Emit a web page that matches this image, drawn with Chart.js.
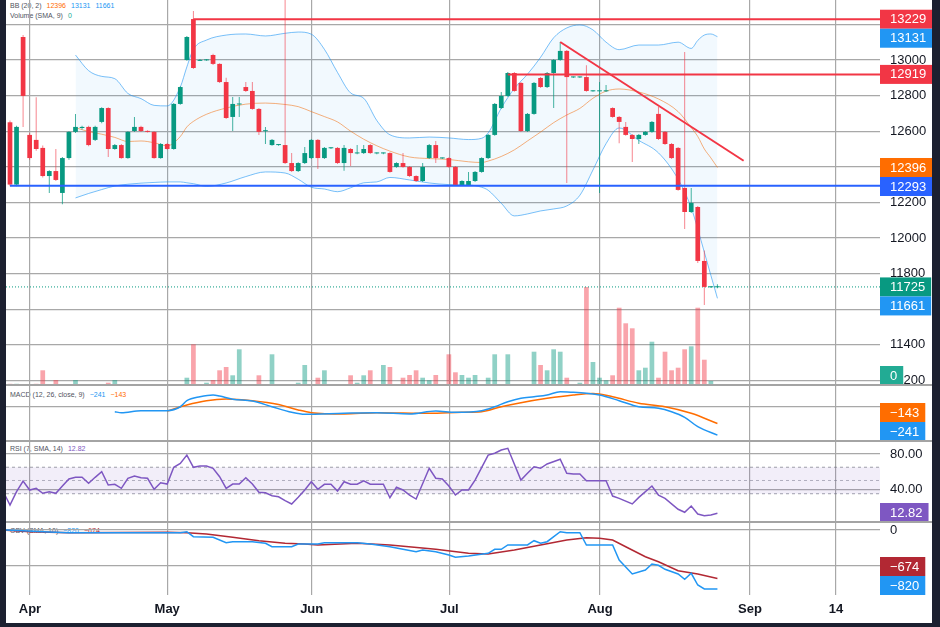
<!DOCTYPE html>
<html>
<head>
<meta charset="utf-8">
<title>BB / Volume / MACD / RSI / OBV</title>
<script src="https://cdn.jsdelivr.net/npm/chart.js@4.4.1/dist/chart.umd.min.js"></script>
<style>
  html, body { margin: 0; padding: 0; width: 940px; height: 627px; overflow: hidden; background: #1c2030; }
  #frame { position: absolute; left: 6px; top: 0; width: 926px; height: 623px; background: #fff; overflow: hidden; }
  .pane { position: absolute; left: 0; width: 926px; }
  .pane canvas { position: absolute; left: 0; top: 0; z-index: 1; }
  .legend { position: absolute; left: 4px; z-index: 0; font: 7px "Liberation Sans", Arial, sans-serif; line-height: 8px; color: #50535e; white-space: nowrap; }
  .legend span { margin-left: 5px; }
  .sep { position: absolute; left: 0; width: 926px; height: 1.5px; background: #a4a4a4; z-index: 2; }
</style>
</head>
<body>
<div id="frame">
  <div class="pane" style="top:0;height:385px"><canvas id="main" width="926" height="385"></canvas></div>
  <div class="pane" style="top:385px;height:56px"><canvas id="macd" width="926" height="56"></canvas></div>
  <div class="pane" style="top:441px;height:81px"><canvas id="rsi" width="926" height="81"></canvas></div>
  <div class="pane" style="top:522px;height:100px"><canvas id="obv" width="926" height="100"></canvas></div>
  <div class="legend" id="lg-bb" style="top:1.5px"></div>
  <div class="legend" id="lg-vol" style="top:11.5px"></div>
  <div class="legend" id="lg-macd" style="top:390.5px"></div>
  <div class="legend" id="lg-rsi" style="top:445px"></div>
  <div class="legend" id="lg-obv" style="top:526.5px"></div>
  <div class="sep" style="top:384.3px"></div>
  <div class="sep" style="top:440.3px"></div>
  <div class="sep" style="top:521.3px"></div>
</div>
<script>
// bar index 0 = first visible daily bar
const monthIdx = [3.05, 24.0, 46.06, 67.07, 90.08, 112.98, 126.1];
const monthLabels = ['Apr', 'May', 'Jun', 'Jul', 'Aug', 'Sep', '14'];
const xMin = -0.61, xMax = 132.82;

const opens = [12650,12300,13129,12579,12551,12506,12348,12376,12253,12449,12596,12618,12624,12551,12652,12730,12500,12522,12449,12601,
  12624,12601,12596,12449,12528,12500,12753,13000,13230,12995,12998,13028,12978,12876,12680,12750,12848,12826,12725,12600,
  12522,12522,12522,12421,12376,12421,12449,12551,12449,12504,12506,12421,12500,12475,12477,12522,12475,12475,12477,12399,
  12421,12399,12348,12320,12449,12522,12447,12449,12399,12298,12298,12320,12371,12449,12579,12730,12798,12927,12871,12601,
  12697,12899,12848,12927,13000,13051,12902,12902,12904,12824,12824,12824,12730,12680,12624,12579,12556,12579,12596,12697,
  12596,12528,12506,12281,12146,12174,11871,11723,11723];
const highs = [12660,12630,13140,12590,12790,12520,12380,12500,12455,12600,12697,12630,12630,12630,12735,12735,12528,12528,12600,12680,
  12630,12605,12600,12533,12533,12758,12853,13135,13275,13005,13005,13035,12982,12900,12792,12792,12876,12876,12730,12624,
  12556,12528,13400,12477,12426,12511,12556,12556,12511,12510,12511,12522,12505,12522,12522,12528,12480,12480,12482,12426,
  12477,12404,12353,12421,12528,12545,12452,12454,12404,12325,12371,12376,12454,12584,12758,12820,12932,12932,12876,12702,
  12876,12904,12932,13005,13101,13056,12907,12907,12970,12830,12876,12860,12735,12685,12652,12584,12584,12601,12657,12736,
  12601,12533,12511,13045,12281,12179,11930,11728,11740];
const lows = [12290,12290,12624,12440,12490,12340,12253,12320,12190,12440,12590,12610,12515,12545,12645,12455,12495,12445,12445,12596,
  12596,12592,12445,12445,12495,12495,12748,12995,12950,12995,12995,12972,12870,12668,12601,12680,12820,12720,12579,12528,
  12518,12518,12415,12371,12371,12416,12444,12387,12444,12500,12416,12378,12404,12470,12472,12472,12470,12470,12366,12394,
  12394,12343,12315,12315,12444,12421,12444,12394,12293,12293,12293,12315,12366,12444,12574,12725,12793,12821,12596,12596,
  12692,12843,12843,12730,12995,12309,12899,12899,12821,12821,12253,12820,12675,12532,12574,12427,12528,12574,12591,12551,
  12523,12444,12265,12050,12141,11860,11624,11720,11718];
const closes = [12300,12624,12798,12449,12500,12348,12376,12326,12449,12596,12624,12624,12522,12624,12730,12500,12522,12449,12596,12624,
  12601,12596,12449,12528,12500,12753,12848,13129,12955,13000,13000,12978,12876,12674,12753,12753,12826,12725,12596,12605,
  12551,12524,12421,12376,12421,12477,12551,12449,12506,12506,12421,12506,12477,12477,12500,12477,12477,12477,12371,12421,
  12399,12348,12320,12399,12522,12449,12449,12399,12298,12320,12320,12371,12449,12579,12753,12798,12927,12826,12601,12697,
  12871,12848,12927,13000,13051,12904,12904,12904,12826,12826,12826,12828,12680,12652,12579,12556,12579,12596,12652,12556,
  12528,12449,12270,12146,12197,11871,11725,11725,11725];
const volumes = [12,12,10,10,12,147,10,50,10,10,50,10,10,10,10,23,50,10,10,10,
  10,10,10,10,10,10,10,73,407,10,23,50,147,180,97,357,10,10,97,10,
  307,10,10,10,23,200,10,73,147,10,10,10,97,23,97,147,10,200,180,10,
  73,100,147,73,47,100,10,307,127,100,73,100,10,73,307,10,307,10,10,10,
  333,200,147,357,333,73,10,23,980,230,73,47,97,773,617,567,147,173,433,73,
  333,147,173,357,387,773,253,40,10];
const volSmaLast = 0;

const bbIdx = [10,12,14,16,18,20,22,24,26,27,28,30,33,36,39,42,44,46,48,50,52,54,56,58,61,64,67,70,72,73,
  75,77,79,81,83,85,87,89,91,93,96,99,102,104,105,106,107,108];
const bbUpper = [13028,12940,12908,12895,12812,12783,12745,12742,12848,12961,13060,13112,13140,13146,13135,13150,13157,13145,13060,12930,
  12815,12785,12660,12580,12562,12567,12562,12553,12560,12590,12730,12840,12920,13015,13125,13180,13197,13169,13100,13058,
  13084,13084,13100,13065,13110,13140,13146,13131];
const bbBasis = [12620,12598,12583,12565,12542,12545,12535,12518,12570,12624,12655,12695,12730,12752,12758,12750,12738,12710,12682,12652,
  12600,12555,12518,12488,12455,12446,12441,12428,12424,12432,12458,12495,12545,12595,12648,12691,12728,12785,12825,12837,
  12820,12781,12710,12620,12570,12500,12450,12396];
const bbLower = [12225,12250,12272,12292,12302,12308,12312,12315,12315,12310,12305,12290,12309,12345,12371,12365,12330,12285,12275,12260,
  12282,12310,12315,12340,12326,12309,12300,12298,12285,12268,12195,12124,12135,12152,12163,12180,12240,12382,12530,12618,
  12548,12478,12330,12170,12050,11920,11790,11661];

const levels = [13229, 12919, 12293];
const levelFrom = [28, 76, 0];
const levelColors = ['#f23645', '#f23645', '#2962ff'];
const trendLine = [[84, 13101], [112, 12434]];
const priceTicks = [11200, 11400, 11600, 11800, 12000, 12200, 12400, 12600, 12800, 13000, 13200];

const macdLine = [[16,-44],[17,-52],[20,-35],[24,-35],[26,-2],[27,49],[29,82],[31,97],[32,88],[34,61],[37,46],[40,-2],[43,-49],[45,-66],
  [51,-57],[56,-52],[61,-63],[65,-38],[68,-49],[72,-35],[74,-2],[76,40],[78,69],[80,82],[82,97],[84,124],[86,119],[88,111],[90,97],
  [93,49],[96,-2],[99,-15],[101,-44],[103,-91],[105,-170],[108,-241]];
const macdSignal = [[24,-38],[27,13],[30,49],[33,63],[37,49],[41,17],[44,-29],[46,-52],[51,-63],[56,-52],[64,-57],[69,-49],[72,-44],
  [75,-2],[78,32],[82,69],[86,97],[89,109],[92,82],[96,27],[100,-2],[104,-57],[108,-143]];

const rsiLine = [[-1,37],[0,22.2],[1,37.3],[2,49.4],[3,39.2],[4,41.1],[5,35.5],[6,37.3],[7,35.5],[8,43.7],[9,51.7],[10,53.6],[11,53.6],
  [12,46.8],[13,53.6],[14,59.9],[15,44.9],[16,45.7],[17,41.1],[18,52.5],[19,55.1],[20,53.1],[21,52.5],[22,40],[23,47.5],[24,46],
  [25,64.9],[26,69.4],[27,78.8],[28,64.9],[29,66.4],[30,66.4],[31,63.8],[32,54.3],[33,41.1],[34,46],[35,46],[36,53.1],[37,46],
  [38,36.6],[39,36.1],[40,32.8],[41,31.6],[42,27.1],[43,23.4],[44,30.9],[45,39.2],[46,48.6],[47,40],[48,45.7],[49,45.7],[50,38.1],
  [51,48.6],[52,45.7],[53,45.7],[54,49.7],[55,45.7],[56,45.7],[57,45.7],[58,30.5],[59,42.3],[60,39.2],[61,33.5],[62,29],[64,63.8],
  [65,52.5],[66,51.7],[67,43.7],[68,33.5],[69,39.2],[70,39.2],[71,50.5],[72,64.5],[73,78.8],[74,80.8],[75,84.5],[76,86.4],[78,50.5],
  [79,58.1],[80,65.6],[81,63.8],[82,68.7],[84,74],[85,58.1],[86,57.3],[87,57.3],[88,49.7],[91,49.7],[92,32.4],[93,29.8],[95,23.4],
  [96,30.9],[98,43.7],[99,33.5],[100,29.8],[102,17.4],[103,14],[104,21.1],[105,12],[106,10.1],[107,10.9],[108,12.82]];
const rsiBands = [65, 50, 35];
const rsiTicks = [40, 80];

const obvLine = [[-1,0],[2,-10],[5,-24],[9,-38],[26,-38],[27,-24],[28,-93],[31,-102],[33,-177],[34,-163],[37,-163],[39,-185],[40,-233],
  [43,-233],[44,-195],[47,-195],[48,-177],[53,-177],[55,-195],[58,-233],[60,-269],[62,-302],[63,-279],[65,-302],[67,-348],[68,-380],
  [70,-362],[73,-325],[74,-269],[75,-269],[76,-209],[79,-209],[80,-149],[81,-185],[82,-163],[84,-24],[85,-38],[87,-38],[88,-209],
  [92,-209],[93,-418],[95,-613],[97,-557],[98,-474],[99,-492],[100,-547],[102,-613],[103,-687],[104,-603],[105,-766],[106,-820],[108,-820]];
const obvSma = [[-1,0],[3,-24],[9,-38],[24,-32],[27,-38],[30,-56],[34,-102],[38,-149],[42,-185],[45,-195],[47,-209],[53,-185],[58,-209],
  [65,-269],[70,-325],[73,-334],[77,-279],[81,-209],[85,-139],[88,-107],[90,-116],[92,-139],[94,-233],[97,-372],[99,-442],[102,-567],
  [105,-613],[108,-674]];
const obvTicks = [-500, 0];

const UP = '#089981', DOWN = '#f23645', BLUE = '#2196f3', ORANGE = '#ff6d00', PURPLE = '#7e57c2', OBVRED = '#b22833', TEAL = '#22ab94';
const GRID = '#a8a8a8';
const FONT = '"Liberation Sans", Arial, sans-serif';
Chart.defaults.font.family = FONT;

const last = a => a[a.length - 1];
const pts = a => a.map(([x, y]) => ({ x, y }));
const hline = v => [{ x: xMin, y: v }, { x: xMax, y: v }];
const fmt = v => (v < 0 ? '\u2212' : '') + Math.abs(v);
const isUp = i => closes[i] >= opens[i];

function xScale(showLabels) {
  return {
    type: 'linear', min: xMin, max: xMax, offset: false,
    grid: { color: GRID, lineWidth: 1.2, drawTicks: false, offset: false },
    border: { display: false },
    afterBuildTicks: s => { s.ticks = monthIdx.map(v => ({ value: v })); },
    afterFit: s => { s.paddingLeft = 0; s.paddingRight = 0; s.height = showLabels ? 27 : 0; },
    ticks: {
      display: showLabels, padding: 7, autoSkip: false, maxRotation: 0,
      color: '#131722', font: { size: 13, weight: 'bold' },
      callback: (v, i) => monthLabels[i]
    }
  };
}

function yScale(min, max, ticks, label) {
  return {
    type: 'linear', position: 'right', min, max,
    grid: { color: GRID, lineWidth: 1.2, drawTicks: false },
    border: { display: false },
    afterBuildTicks: s => { s.ticks = ticks.map(v => ({ value: v })); },
    afterFit: s => { s.width = 52; s.paddingTop = 0; s.paddingBottom = 0; },
    ticks: { padding: 10, crossAlign: 'near', color: '#131722', font: { size: 13 }, callback: label }
  };
}

// coloured value tags on the price scale
function tags(items) {
  return {
    id: 'tags',
    afterDraw(chart) {
      const { ctx, chartArea } = chart;
      const h = 19;
      const list = items.map(it => Object.assign({}, it, { y: chart.scales[it.axis || 'y'].getPixelForValue(it.value) }))
        .sort((a, b) => a.y - b.y);
      for (let i = 1; i < list.length; i++) list[i].y = Math.max(list[i].y, list[i - 1].y + h);
      let limit = chartArea.bottom - h / 2;
      for (let i = list.length - 1; i >= 0; i--) { list[i].y = Math.min(list[i].y, limit); limit = list[i].y - h; }
      ctx.save();
      ctx.font = '13px ' + FONT;
      ctx.textBaseline = 'middle';
      list.forEach(it => {
        const w = ctx.measureText(it.text).width + 16;
        ctx.fillStyle = it.color;
        ctx.fillRect(chartArea.right, it.y - h / 2, w, h);
        ctx.fillStyle = '#fff';
        ctx.fillText(it.text, chartArea.right + 10, it.y + 0.5);
      });
      ctx.restore();
    }
  };
}

function options(scales) {
  return {
    responsive: false, animation: false, events: [],
    layout: { padding: 0 },
    plugins: { legend: { display: false }, tooltip: { enabled: false } },
    elements: { point: { radius: 0 }, bar: { borderWidth: 0 } },
    scales
  };
}

function legend(id, title, parts) {
  const el = document.getElementById(id);
  el.textContent = title;
  parts.forEach(([t, c]) => {
    const s = document.createElement('span');
    s.textContent = t;
    s.style.color = c;
    el.appendChild(s);
  });
}

// ---------- price pane ----------
const levelSets = levels.map((v, k) => ({
  type: 'line', data: [{ x: levelFrom[k], y: v }, { x: xMax, y: v }],
  borderColor: levelColors[k], borderWidth: 2, order: 0
}));

new Chart(document.getElementById('main'), {
  type: 'line',
  data: {
    datasets: [
      ...levelSets,
      { type: 'line', data: pts(trendLine), borderColor: DOWN, borderWidth: 2, order: 0 },
      { type: 'bar', data: opens.map((o, i) => ({ x: i, y: [o, closes[i]] })),
        backgroundColor: c => isUp(c.dataIndex) ? UP : DOWN,
        grouped: false, maxBarThickness: 5, minBarLength: 1, order: 1 },
      { type: 'bar', data: lows.map((l, i) => ({ x: i, y: [l, highs[i]] })),
        backgroundColor: c => isUp(c.dataIndex) ? 'rgba(8,153,129,0.75)' : 'rgba(242,54,69,0.6)',
        grouped: false, maxBarThickness: 1, order: 2 },
      { type: 'line', data: hline(last(closes)), borderColor: UP, borderWidth: 1, borderDash: [1, 2], order: 3 },
      { type: 'bar', yAxisID: 'yv', data: volumes.map((v, i) => ({ x: i, y: v })),
        backgroundColor: c => isUp(c.dataIndex) ? 'rgba(8,153,129,0.45)' : 'rgba(242,54,69,0.45)',
        grouped: false, maxBarThickness: 5, order: 4 },
      { type: 'line', data: bbIdx.map((x, k) => ({ x, y: bbUpper[k] })), borderColor: 'rgba(33,150,243,0.6)', borderWidth: 1,
        cubicInterpolationMode: 'monotone', fill: 10, backgroundColor: 'rgba(33,150,243,0.06)', order: 5 },
      { type: 'line', data: bbIdx.map((x, k) => ({ x, y: bbBasis[k] })), borderColor: 'rgba(255,109,0,0.55)', borderWidth: 1,
        cubicInterpolationMode: 'monotone', order: 5 },
      { type: 'line', data: bbIdx.map((x, k) => ({ x, y: bbLower[k] })), borderColor: 'rgba(33,150,243,0.6)', borderWidth: 1,
        cubicInterpolationMode: 'monotone', order: 5 }
    ]
  },
  options: options({
    x: xScale(false),
    y: yScale(11174, 13337, priceTicks, v => String(v)),
    yv: { type: 'linear', display: false, min: 0, max: 3850 }
  }),
  plugins: [tags([
    { value: levels[0], text: fmt(levels[0]), color: levelColors[0] },
    { value: last(bbUpper), text: fmt(last(bbUpper)), color: BLUE },
    { value: levels[1], text: fmt(levels[1]), color: levelColors[1] },
    { value: last(bbBasis), text: fmt(last(bbBasis)), color: ORANGE },
    { value: levels[2], text: fmt(levels[2]), color: levelColors[2] },
    { value: last(closes), text: fmt(last(closes)), color: UP },
    { value: last(bbLower), text: fmt(last(bbLower)), color: BLUE },
    { value: volSmaLast, axis: 'yv', text: fmt(volSmaLast), color: TEAL }
  ])]
});

// ---------- MACD pane ----------
new Chart(document.getElementById('macd'), {
  type: 'line',
  data: {
    datasets: [
      { data: pts(macdLine), borderColor: BLUE, borderWidth: 1.5, cubicInterpolationMode: 'monotone' },
      { data: pts(macdSignal), borderColor: ORANGE, borderWidth: 1.5, cubicInterpolationMode: 'monotone' }
    ]
  },
  // the zero label sits under the value tags, so it is left blank
  options: options({ x: xScale(false), y: yScale(-290, 180.7, [0], () => '') }),
  plugins: [tags([
    { value: last(macdSignal)[1], text: fmt(last(macdSignal)[1]), color: ORANGE },
    { value: last(macdLine)[1], text: fmt(last(macdLine)[1]), color: BLUE }
  ])]
});

// ---------- RSI pane ----------
new Chart(document.getElementById('rsi'), {
  type: 'line',
  data: {
    datasets: [
      { data: pts(rsiLine), borderColor: PURPLE, borderWidth: 1.5, order: 0 },
      { data: hline(rsiBands[0]), borderColor: 'rgba(120,123,134,0.7)', borderWidth: 1, borderDash: [3, 3],
        fill: 3, backgroundColor: 'rgba(126,87,194,0.1)', order: 1 },
      { data: hline(rsiBands[1]), borderColor: 'rgba(120,123,134,0.55)', borderWidth: 1, borderDash: [3, 3], order: 1 },
      { data: hline(rsiBands[2]), borderColor: 'rgba(120,123,134,0.7)', borderWidth: 1, borderDash: [3, 3], order: 1 }
    ]
  },
  options: options({ x: xScale(false), y: yScale(3, 94.7, rsiTicks, v => v.toFixed(2)) }),
  plugins: [tags([{ value: last(rsiLine)[1], text: last(rsiLine)[1].toFixed(2), color: PURPLE }])]
});

// ---------- OBV pane ----------
new Chart(document.getElementById('obv'), {
  type: 'line',
  data: {
    datasets: [
      { data: pts(obvLine), borderColor: BLUE, borderWidth: 1.5 },
      { data: pts(obvSma), borderColor: OBVRED, borderWidth: 1.5 }
    ]
  },
  options: options({ x: xScale(true), y: yScale(-905, 111, obvTicks, v => fmt(v)) }),
  plugins: [tags([
    { value: last(obvSma)[1], text: fmt(last(obvSma)[1]), color: OBVRED },
    { value: last(obvLine)[1], text: fmt(last(obvLine)[1]), color: BLUE }
  ])]
});

legend('lg-bb', 'BB (20, 2)', [[fmt(last(bbBasis)), ORANGE], [fmt(last(bbUpper)), BLUE], [fmt(last(bbLower)), BLUE]]);
legend('lg-vol', 'Volume (SMA, 9)', [[fmt(volSmaLast), TEAL]]);
legend('lg-macd', 'MACD (12, 26, close, 9)', [[fmt(last(macdLine)[1]), BLUE], [fmt(last(macdSignal)[1]), ORANGE]]);
legend('lg-rsi', 'RSI (7, SMA, 14)', [[last(rsiLine)[1].toFixed(2), PURPLE]]);
legend('lg-obv', 'OBV (SMA, 10)', [[fmt(last(obvLine)[1]), BLUE], [fmt(last(obvSma)[1]), OBVRED]]);
</script>
</body>
</html>
